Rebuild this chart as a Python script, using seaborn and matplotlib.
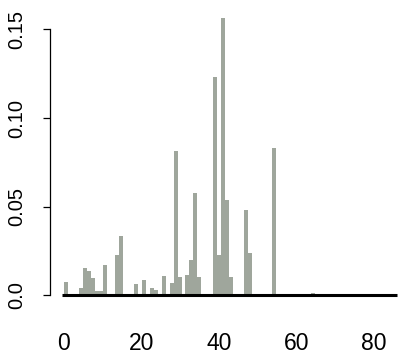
import numpy as np
import pandas as pd
import matplotlib
matplotlib.use("Agg")
import matplotlib.pyplot as plt
import seaborn as sns

# ---- data (density per bin, bins of equal width starting at 0) ----
bin_width = 81 / 80
density = [
    0.0077, 0.0010, 0.0010, 0.0004, 0.0040, 0.0155, 0.0140, 0.0097,
    0.0027, 0.0025, 0.0170, 0.0, 0.0, 0.0230, 0.0335, 0.0,
    0.0, 0.0, 0.0066, 0.0, 0.0085, 0.0, 0.0043, 0.0032,
    0.0, 0.0110, 0.0, 0.0071, 0.0817, 0.0103, 0.0, 0.0117,
    0.0200, 0.0580, 0.0103, 0.0, 0.0, 0.0, 0.1234, 0.0231,
    0.1565, 0.0540, 0.0103, 0.0, 0.0, 0.0, 0.0480, 0.0240,
    0.0, 0.0, 0.0, 0.0, 0.0010, 0.0833, 0.0, 0.0,
    0.0, 0.0, 0.0, 0.0, 0.0, 0.0, 0.0, 0.0015,
]
x_ticks = [0, 20, 40, 60, 80]
y_ticks = [0.0, 0.05, 0.10, 0.15]
y_tick_labels = ["0.0", "0.05", "0.10", "0.15"]
baseline_span = [-0.45, 85.8]

n_bins = len(density)
centers = (np.arange(n_bins) + 0.5) * bin_width
df = pd.DataFrame({"x": centers, "w": density})

sns.set_style("ticks")
plt.rcParams["font.family"] = ["Liberation Sans", "DejaVu Sans"]

fig = plt.figure(figsize=(4.09, 3.57), dpi=100)
ax = fig.add_axes([55 / 409, 57 / 357, 345 / 409, 290 / 357])

sns.histplot(data=df, x="x", weights="w", binwidth=bin_width,
             binrange=(0, n_bins * bin_width), stat="count",
             color="#9fa69c", alpha=1.0, edgecolor="none", linewidth=0,
             ax=ax)

ax.plot(baseline_span, [0, 0], color="black", lw=2.2, solid_capstyle="butt",
        zorder=5)

ax.set_xlim(-2.24, 86.67)
ax.set_ylim(-0.00254, 0.1609)
ax.set_xlabel("")
ax.set_ylabel("")

for s in ["top", "right", "bottom"]:
    ax.spines[s].set_visible(False)
ax.spines["left"].set_position(("outward", 3.6))
ax.spines["left"].set_bounds(0, 0.15)
ax.spines["left"].set_linewidth(0.9)
ax.spines["left"].set_color("black")

ax.set_xticks(x_ticks)
ax.set_xticklabels([str(t) for t in x_ticks])
ax.set_yticks(y_ticks)
ax.set_yticklabels(y_tick_labels)

ax.tick_params(axis="x", length=0, pad=23, labelsize=16.5, colors="black")
ax.tick_params(axis="y", length=5, width=0.9, pad=12, labelsize=14.5,
               colors="black", labelrotation=90)
for lab in ax.get_yticklabels():
    lab.set_va("center")

fig.savefig("out.png", dpi=100)
